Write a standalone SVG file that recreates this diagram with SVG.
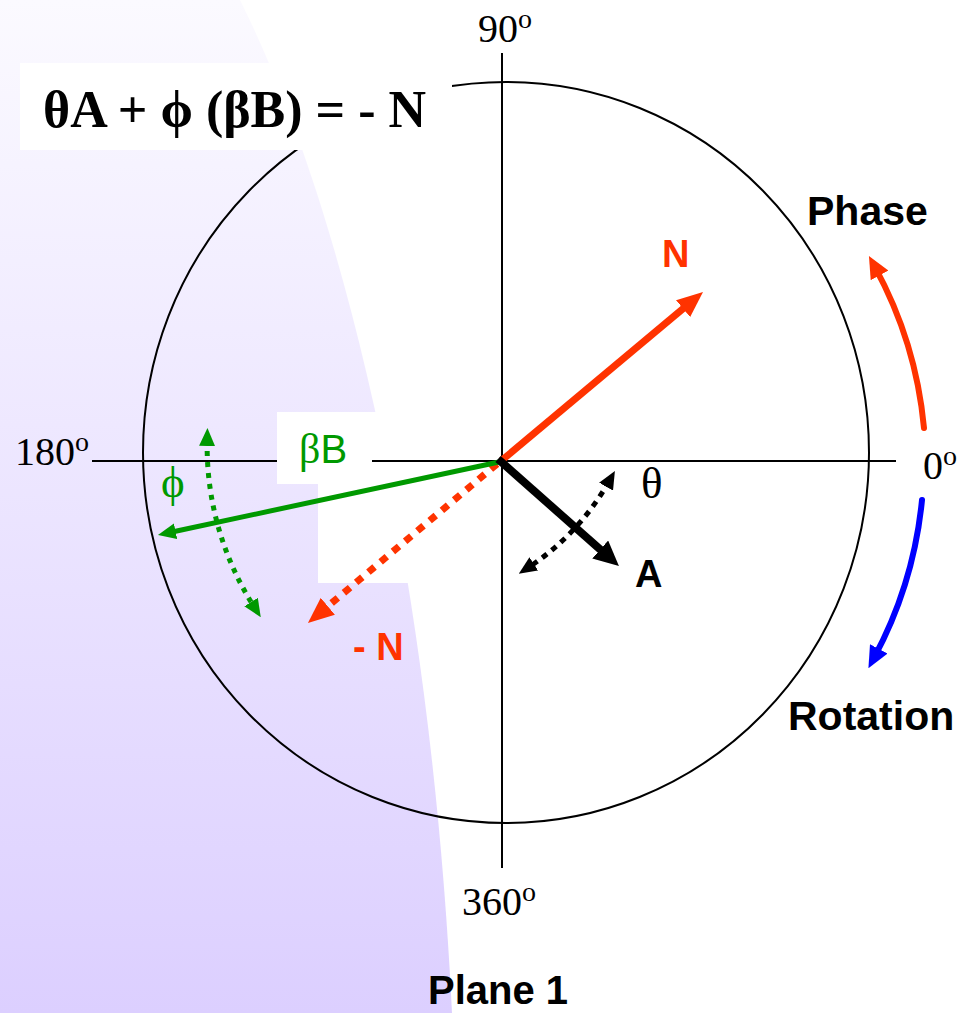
<svg xmlns="http://www.w3.org/2000/svg" width="961" height="1013" viewBox="0 0 961 1013">
<style>
.ser{font-family:"Liberation Serif","Times New Roman",serif;}
.deg{font-family:"Liberation Serif","Times New Roman",serif;font-size:40px;fill:#000;}
.sup{font-size:28px;}
.lbl{font-family:"Liberation Sans",Arial,sans-serif;font-weight:bold;}
.axis{stroke:#000;stroke-width:2;fill:none;}
</style>
<defs>
<linearGradient id="bg" x1="0" y1="0" x2="0" y2="1013" gradientUnits="userSpaceOnUse">
<stop offset="0" stop-color="#FBFAFF"/>
<stop offset="1" stop-color="#DCCFFF"/>
</linearGradient>
<marker id="hN" viewBox="0 0 26 22" refX="8" refY="11" markerWidth="26" markerHeight="22" markerUnits="userSpaceOnUse" orient="auto"><path d="M0,0 L26,11 L0,22 z" fill="#FF3300"/></marker>
<marker id="hA" viewBox="0 0 25 24" refX="8" refY="12" markerWidth="25" markerHeight="24" markerUnits="userSpaceOnUse" orient="auto"><path d="M0,0 L25,12 L0,24 z" fill="#000"/></marker>
<marker id="hG" viewBox="0 0 18 16" refX="6" refY="8" markerWidth="18" markerHeight="16" markerUnits="userSpaceOnUse" orient="auto-start-reverse"><path d="M0,0 L18,8 L0,16 z" fill="#009900"/></marker>
<marker id="hK" viewBox="0 0 18 16" refX="6" refY="8" markerWidth="18" markerHeight="16" markerUnits="userSpaceOnUse" orient="auto-start-reverse"><path d="M0,0 L18,8 L0,16 z" fill="#000"/></marker>
<marker id="hR" viewBox="0 0 22 20" refX="10" refY="10" markerWidth="22" markerHeight="20" markerUnits="userSpaceOnUse" orient="auto"><path d="M0,0 L22,10 L0,20 z" fill="#FF3300"/></marker>
<marker id="hB" viewBox="0 0 22 20" refX="10" refY="10" markerWidth="22" markerHeight="20" markerUnits="userSpaceOnUse" orient="auto"><path d="M0,0 L22,10 L0,20 z" fill="#0000FF"/></marker>
</defs>

<g id="background">
<path d="M0,0 L240,0 C340,200 430,560 452,1013 L0,1013 Z" fill="url(#bg)"/>
<rect x="277" y="412" width="155" height="72" fill="#fff"/>
<rect x="318" y="484" width="114" height="99" fill="#fff"/>
</g>

<g id="plane">
<ellipse cx="506" cy="452.5" rx="363" ry="370.5" class="axis"/>
<line x1="92" y1="461" x2="896" y2="461" class="axis"/>
<line x1="502" y1="53" x2="502" y2="868" class="axis"/>
</g>

<g id="label-bB">
<rect x="277" y="412" width="95" height="72" fill="#fff"/>
<text x="299" y="463" fill="#009900"><tspan class="ser" font-size="42">β</tspan><tspan font-family="Liberation Sans, Arial, sans-serif" font-size="40">B</tspan></text>
</g>

<g id="formula">
<rect x="20" y="63" width="432" height="87" fill="#fff"/>
<text class="ser" font-size="52" font-weight="bold" fill="#000" x="43" y="127">θA + ϕ (βB) = - N</text>
</g>

<g id="connectors" fill="none">
<path id="arrow-N" d="M501,461 L689.2,303.5" stroke="#FF3300" stroke-width="7" marker-end="url(#hN)"/>
<path id="arrow-minusN" d="M497,464 L321.7,611.4" stroke="#FF3300" stroke-width="7" stroke-dasharray="8 8" marker-end="url(#hN)"/>
<path id="arrow-bB" d="M499,462 L169.7,532.5" stroke="#009900" stroke-width="5" marker-end="url(#hG)"/>
<path id="arrow-A" d="M498,459 L606.2,554.8" stroke="#000" stroke-width="8" marker-end="url(#hA)"/>
<path id="arc-phi" d="M207.2,440 A298,298 0 0 0 254.3,607.1" stroke="#009900" stroke-width="5" stroke-dasharray="5 6" marker-start="url(#hG)" marker-end="url(#hG)"/>
<path id="arc-theta" d="M609,481.4 A250,250 0 0 1 528.8,567.2" stroke="#000" stroke-width="5" stroke-dasharray="6 6" marker-start="url(#hK)" marker-end="url(#hK)"/>
<path id="arc-phase" d="M924,428 A416,416 0 0 0 874.7,266.6" stroke="#FF3300" stroke-width="6" stroke-linecap="round" marker-end="url(#hR)"/>
<path id="arc-rotation" d="M922,500 A420,420 0 0 1 874.1,657.7" stroke="#0000FF" stroke-width="6" stroke-linecap="round" marker-end="url(#hB)"/>
</g>

<g id="degrees">
<text x="478" y="42" class="deg">90<tspan class="sup" dy="-14">o</tspan></text>
<text x="15" y="465" class="deg">180<tspan class="sup" dy="-14">o</tspan></text>
<text x="923" y="479" class="deg">0<tspan class="sup" dy="-14">o</tspan></text>
<text x="462" y="915" class="deg">360<tspan class="sup" dy="-14">o</tspan></text>
</g>

<g id="labels">
<text x="662" y="267" class="lbl" font-size="38" fill="#FF3300">N</text>
<text x="353" y="660" class="lbl" font-size="38" fill="#FF3300">- N</text>
<text x="635" y="587" class="lbl" font-size="38" fill="#000">A</text>
<text x="641" y="498" class="ser" font-size="45" fill="#000">θ</text>
<text x="161" y="497" class="ser" font-size="45" fill="#009900">ϕ</text>
<text x="807" y="225" class="lbl" font-size="41" fill="#000">Phase</text>
<text x="788" y="730" class="lbl" font-size="41" fill="#000">Rotation</text>
<text x="428" y="1004" class="lbl" font-size="40" fill="#000">Plane 1</text>
</g>
</svg>
